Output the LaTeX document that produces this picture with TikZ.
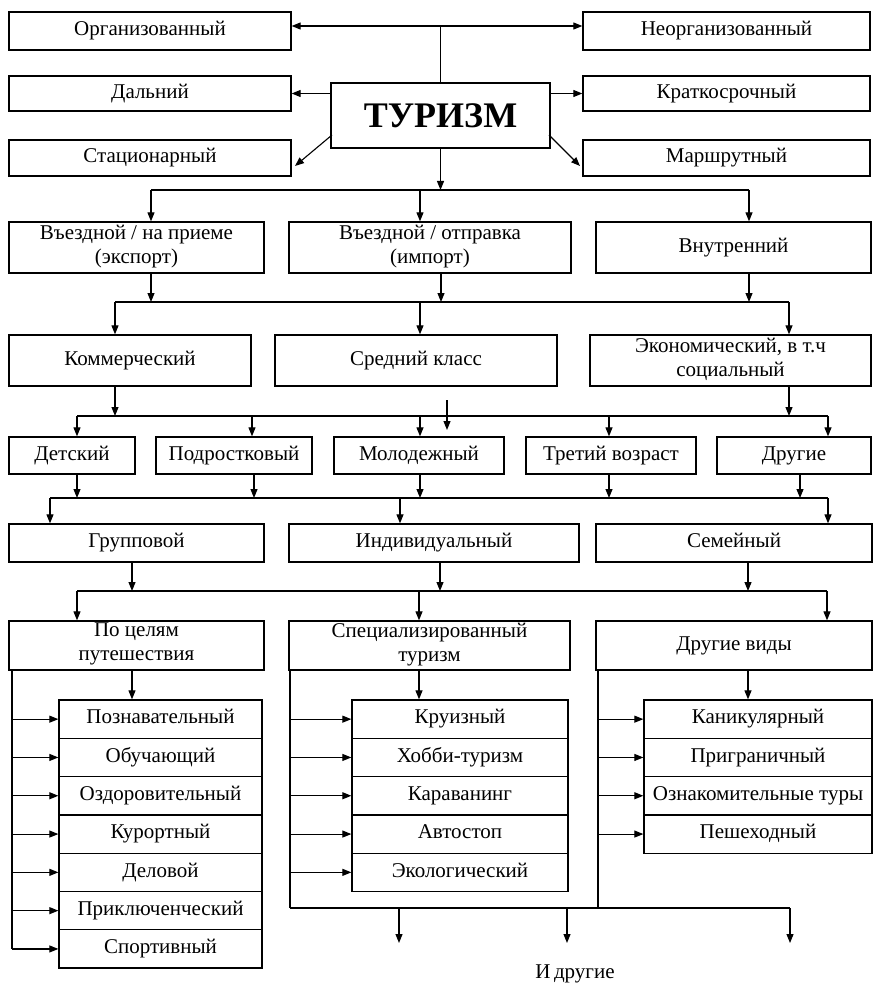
\documentclass[tikz,border=0pt]{standalone}
\usepackage{fontspec}
\setmainfont{Liberation Serif}
\usetikzlibrary{arrows.meta,calc}
\tikzset{
  box/.style={draw, line width=1.3pt, inner sep=0pt, align=center,
    font=\fontsize{21}{24}\selectfont,
    execute at begin node=\strut, execute at end node=\strut},
  arr/.style={-{Triangle[length=9pt,width=7pt]}, line width=1.1pt},
  ln/.style={line width=1.1pt},
  lbl/.style={font=\fontsize{21}{25}\selectfont, inner sep=0pt},
}
% \mkbox{name}{x1}{y1}{x2}{y2}{text}
\newcommand\mkbox[6]{%
  \node[box, minimum width={((#4)-(#2))*1pt}, minimum height={((#5)-(#3))*1pt}]
    (#1) at ({((#2)+(#4))/2},{((#3)+(#5))/2}) {#6};}
\begin{document}
\begin{tikzpicture}[x=1pt,y=-1pt]
\fill[white] (0,0) rectangle (873,992);
\useasboundingbox (0,0) rectangle (873,992);

% top block
\mkbox{org}{9}{12}{291}{50}{Организованный}
\mkbox{neorg}{583}{12}{870}{50}{Неорганизованный}
\mkbox{dal}{9}{76}{291}{111}{Дальний}
\mkbox{krat}{583}{76}{870}{111}{Краткосрочный}
\mkbox{stac}{9}{140}{291}{176}{Стационарный}
\mkbox{marsh}{583}{140}{870}{176}{Маршрутный}
\node[draw, line width=1.3pt, inner sep=0pt, minimum width=219pt, minimum height=65pt,
  font=\fontsize{36}{40}\selectfont\bfseries]
  (tur) at (440.5,115.5) {ТУРИЗМ};

\coordinate (t1) at (440.5,26);
\draw[ln] (tur.north) -- (t1);
\draw[arr] (t1) -- (t1 -| org.east);
\draw[arr] (t1) -- (t1 -| neorg.west);
\draw[arr] (tur.west |- dal.east) -- (dal.east);
\draw[arr] (tur.east |- krat.east) -- (krat.west);
\coordinate (dgl1) at (332,135);
\coordinate (dgl2) at (295,166);
\coordinate (dgr1) at (549,135);
\coordinate (dgr2) at (580,166);
\draw[arr] (dgl1) -- (dgl2);
\draw[arr] (dgr1) -- (dgr2);

% level: import/export
\mkbox{vex}{9}{222}{264}{273}{Въездной / на приеме\\(экспорт)}
\mkbox{vot}{289}{222}{571}{273}{Въездной / отправка\\(импорт)}
\mkbox{vnu}{596}{222}{871}{273}{Внутренний}
\coordinate (b1l) at (151,190);
\coordinate (b1m) at (420,190);
\coordinate (b1r) at (749,190);
\draw[arr] (tur.south) -- (tur.south |- b1l);
\draw[ln] (b1l) -- (b1r);
\draw[arr] (b1l) -- (b1l |- vex.north);
\draw[arr] (b1m) -- (b1m |- vot.north);
\draw[arr] (b1r) -- (b1r |- vnu.north);

% level: class
\mkbox{kom}{9}{335}{251}{386}{Коммерческий}
\mkbox{sred}{275}{335}{557}{386}{Средний класс}
\mkbox{econ}{590}{335}{871}{386}{Экономический, в т.ч\\социальный}
\coordinate (b2l) at (115,302);
\coordinate (b2a) at (441,302);
\coordinate (b2m) at (420,302);
\coordinate (b2r) at (789,302);
\draw[arr] (b1l |- vex.south) -- (b1l |- b2l);
\draw[arr] (b2a |- vot.south) -- (b2a);
\draw[arr] (b1r |- vnu.south) -- (b1r |- b2l);
\draw[ln] (b2l) -- (b2r);
\draw[arr] (b2l) -- (b2l |- kom.north);
\draw[arr] (b2m) -- (b2m |- sred.north);
\draw[arr] (b2r) -- (b2r |- econ.north);

% level: age
\mkbox{det}{9}{437}{135}{474}{Детский}
\mkbox{pod}{156}{437}{312}{474}{Подростковый}
\mkbox{mol}{334}{437}{504}{474}{Молодежный}
\mkbox{tret}{526}{437}{696}{474}{Третий возраст}
\mkbox{dru}{717}{437}{871}{474}{Другие}
\coordinate (b3l) at (77,416);
\coordinate (b3b) at (252,416);
\coordinate (b3m) at (420,416);
\coordinate (b3c) at (609,416);
\coordinate (b3r) at (828,416);
\draw[arr] (b2l |- kom.south) -- (b2l |- b3l);
\draw[arr] (b2r |- econ.south) -- (b2r |- b3l);
\draw[ln] (b3l) -- (b3r);
\coordinate (f1) at (447,400);
\coordinate (f2) at (447,430);
\draw[arr] (f1) -- (f2);
\draw[arr] (b3l) -- (b3l |- det.north);
\draw[arr] (b3b) -- (b3b |- pod.north);
\draw[arr] (b3m) -- (b3m |- mol.north);
\draw[arr] (b3c) -- (b3c |- tret.north);
\draw[arr] (b3r) -- (b3r |- dru.north);

% level: group
\mkbox{grp}{9}{524}{264}{562}{Групповой}
\mkbox{ind}{289}{524}{579}{562}{Индивидуальный}
\mkbox{sem}{596}{524}{872}{562}{Семейный}
\coordinate (b4l) at (50,498);
\coordinate (b4m) at (400,498);
\coordinate (b4r) at (828,498);
\coordinate (b4p) at (254,498);
\coordinate (b4d) at (800,498);
\draw[arr] (det.south -| b3l) -- (b3l |- b4l);
\draw[arr] (b4p |- pod.south) -- (b4p);
\draw[arr] (mol.south -| b3m) -- (b3m |- b4l);
\draw[arr] (tret.south -| b3c) -- (b3c |- b4l);
\draw[arr] (b4d |- dru.south) -- (b4d);
\draw[ln] (b4l) -- (b4r);
\draw[arr] (b4l) -- (b4l |- grp.north);
\draw[arr] (b4m) -- (b4m |- ind.north);
\draw[arr] (b4r) -- (b4r |- sem.north);

% level: kinds
\mkbox{cel}{9}{621}{264}{670}{По целям\\путешествия}
\mkbox{spec}{289}{621}{570}{670}{Специализированный\\туризм}
\mkbox{drv}{596}{621}{872}{670}{Другие виды}
\coordinate (b5l) at (77,591);
\coordinate (b5m) at (419,591);
\coordinate (b5r) at (827,591);
\coordinate (u1) at (132,591);
\coordinate (u2) at (440,591);
\coordinate (u3) at (748,591);
\draw[arr] (u1 |- grp.south) -- (u1);
\draw[arr] (u2 |- ind.south) -- (u2);
\draw[arr] (u3 |- sem.south) -- (u3);
\draw[ln] (b5l) -- (b5r);
\draw[arr] (b5l) -- (b5l |- cel.north);
\draw[arr] (b5m) -- (b5m |- spec.north);
\draw[arr] (b5r) -- (b5r |- drv.north);

% lists
\foreach \t [count=\i] in {Познавательный,Обучающий,Оздоровительный,Курортный,Деловой,Приключенческий,Спортивный}{
  \mkbox{l\i}{59}{700+(\i-1)*38.3}{262}{700+\i*38.3}{\t}
}
\foreach \t [count=\i] in {Круизный,Хобби-туризм,Караванинг,Автостоп,Экологический}{
  \mkbox{m\i}{352}{700+(\i-1)*38.3}{568}{700+\i*38.3}{\t}
}
\foreach \t [count=\i] in {Каникулярный,Приграничный,Ознакомительные туры,Пешеходный}{
  \mkbox{r\i}{644}{700+(\i-1)*38.3}{872}{700+\i*38.3}{\t}
}
\draw[arr] (u1 |- cel.south) -- (u1 |- l1.north);
\draw[arr] (b5m |- spec.south) -- (b5m |- m1.north);
\draw[arr] (u3 |- drv.south) -- (u3 |- r1.north);

% left vertical
\coordinate (lv) at (12,670);
\draw[ln] (lv) -- (lv |- l7.west);
\foreach \i in {1,...,7}{ \draw[arr] (lv |- l\i.west) -- (l\i.west); }
% middle vertical
\coordinate (mv) at (290,670);
\coordinate (bl) at (290,908);
\coordinate (br) at (790,908);
\draw[ln] (mv) -- (bl);
\foreach \i in {1,...,5}{ \draw[arr] (mv |- m\i.west) -- (m\i.west); }
% right vertical
\coordinate (rv) at (598,670);
\coordinate (rvb) at (598,908);
\draw[ln] (rv) -- (rvb);
\foreach \i in {1,...,4}{ \draw[arr] (rv |- r\i.west) -- (r\i.west); }
% bottom line and free arrows
\draw[ln] (bl) -- (br);
\coordinate (a1) at (399,908);
\coordinate (a2) at (567,908);
\coordinate (e1) at (399,943);
\coordinate (e2) at (567,943);
\coordinate (e3) at (790,943);
\draw[arr] (a1) -- (e1);
\draw[arr] (a2) -- (e2);
\draw[arr] (br) -- (e3);
\node[lbl] (idr) at (575,974) {И\,другие};
\end{tikzpicture}
\end{document}
